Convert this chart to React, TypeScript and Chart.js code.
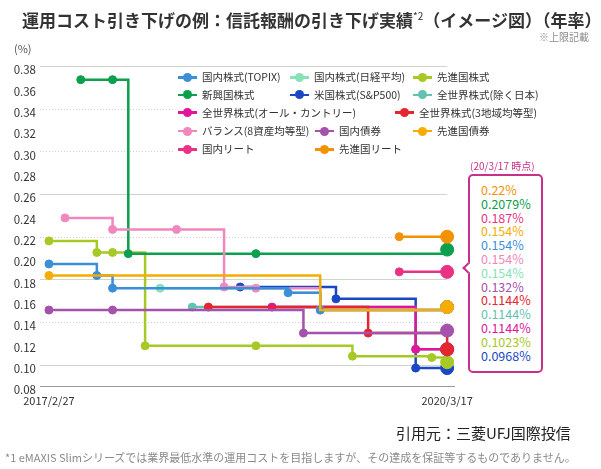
import React, { useEffect, useRef } from "react";
import { Chart, registerables } from "chart.js";

Chart.register(...registerables);

const FONT = '"Noto Sans CJK JP", "Noto Sans", sans-serif';

// ---- axes ----
const X_TICK_DAYS = [0, 1114]; // days since 2017/2/27
const X_TICK_LABELS = ["2017/2/27", "2020/3/17"];
const Y_TICKS = [0.08, 0.1, 0.12, 0.14, 0.16, 0.18, 0.2, 0.22, 0.24, 0.26, 0.28, 0.3, 0.32, 0.34, 0.36, 0.38];
const GRID_SOLID = [0.38, 0.26, 0.18, 0.1];
const GRID_DOTTED = [0.34, 0.3, 0.22, 0.14];

// ---- series ----
const SERIES_NAMES = [
  "国内株式(TOPIX)",
  "国内株式(日経平均)",
  "先進国株式",
  "新興国株式",
  "米国株式(S&P500)",
  "全世界株式(除く日本)",
  "全世界株式(オール・カントリー)",
  "全世界株式(3地域均等型)",
  "バランス(8資産均等型)",
  "国内債券",
  "先進国債券",
  "国内リート",
  "先進国リート",
];
const SERIES_COLORS = [
  "#3b8fd9",
  "#86e3b6",
  "#a6c925",
  "#0b9f4e",
  "#1a47c4",
  "#63c2b2",
  "#e0169b",
  "#e3262f",
  "#f087bd",
  "#a452ab",
  "#f6ac00",
  "#e83384",
  "#f39200",
];

// x: days since 2017/2/27, y: 信託報酬 (%)
const TOPIX_X = [0, 134, 178, 669, 759, 1114];
const TOPIX_Y = [0.1944, 0.1836, 0.1717, 0.1674, 0.1512, 0.154];
const NIKKEI_X = [311, 669, 759, 1114];
const NIKKEI_Y = [0.1717, 0.1674, 0.1512, 0.154];
const DEV_EQ_X = [0, 134, 178, 269, 579, 849, 1071, 1114];
const DEV_EQ_Y = [0.216, 0.2052, 0.2052, 0.1177, 0.1177, 0.108, 0.1067, 0.1023];
const EM_EQ_X = [89, 178, 222, 579, 1114];
const EM_EQ_Y = [0.3672, 0.3672, 0.2041, 0.2041, 0.2079];
const SP500_X = [535, 803, 1026, 1114];
const SP500_Y = [0.1728, 0.1617, 0.0968, 0.0968];
const EXJP_X = [401, 1026, 1114];
const EXJP_Y = [0.154, 0.1144, 0.1144];
const ACWI_X = [624, 1026, 1114];
const ACWI_Y = [0.154, 0.1144, 0.1144];
const THREE_X = [446, 893, 1114];
const THREE_Y = [0.154, 0.1296, 0.1144];
const BAL_X = [45, 178, 357, 490, 579, 759, 1114];
const BAL_Y = [0.2376, 0.2268, 0.2268, 0.1728, 0.1717, 0.1512, 0.154];
const JGB_X = [0, 178, 712, 1114];
const JGB_Y = [0.1512, 0.1512, 0.1296, 0.132];
const DEV_BOND_X = [0, 759, 1114];
const DEV_BOND_Y = [0.1836, 0.1512, 0.154];
const JREIT_X = [980, 1114];
const JREIT_Y = [0.187, 0.187];
const DEV_REIT_X = [980, 1114];
const DEV_REIT_Y = [0.22, 0.22];

const SERIES_X = [TOPIX_X, NIKKEI_X, DEV_EQ_X, EM_EQ_X, SP500_X, EXJP_X, ACWI_X, THREE_X, BAL_X, JGB_X, DEV_BOND_X, JREIT_X, DEV_REIT_X];
const SERIES_Y = [TOPIX_Y, NIKKEI_Y, DEV_EQ_Y, EM_EQ_Y, SP500_Y, EXJP_Y, ACWI_Y, THREE_Y, BAL_Y, JGB_Y, DEV_BOND_Y, JREIT_Y, DEV_REIT_Y];

// order of the list in the "(20/3/17 時点)" box
const BOX_ORDER = [12, 3, 11, 10, 0, 8, 1, 9, 7, 5, 6, 2, 4];
const BOX_HEADER = "(20/3/17 時点)";

// ---- styling / layout (not data) ----
const DRAW_PRIORITY = [1, 3, 11, 9, 12, 6, 5, 4, 2, 3.5, 0, 8, 7];
const HIDDEN_DOTS: Record<number, number[]> = { 10: [1], 1: [1, 2] };
const LEGEND_ROWS = [77.3, 94.8, 112.7, 131, 149.3];
const LEGEND_SLOTS: [number, number, number][] = [
  [0, 178, 0], [1, 290, 0], [2, 413, 0],
  [3, 178, 1], [4, 290, 1], [5, 413, 1],
  [6, 178, 2], [7, 395, 2],
  [8, 178, 3], [9, 315, 3], [10, 413, 3],
  [11, 178, 4], [12, 315, 4],
];
const BOX_COLOR = "#c8318b";

const gridPlugin = {
  id: "customGrid",
  beforeDatasetsDraw(chart: any) {
    const { ctx, chartArea, scales } = chart;
    const ys = scales.y;
    const xs = scales.x;
    const x0 = chartArea.left;
    const x1 = xs.getPixelForValue(X_TICK_DAYS[1]);
    const line = (v: number, color: string, dash: number[], right: number) => {
      const p = Math.round(ys.getPixelForValue(v)) + 0.5;
      ctx.save();
      ctx.strokeStyle = color;
      ctx.lineWidth = 1;
      ctx.setLineDash(dash);
      ctx.beginPath();
      ctx.moveTo(x0, p);
      ctx.lineTo(right, p);
      ctx.stroke();
      ctx.restore();
    };
    GRID_SOLID.forEach((v) => line(v, "#cdd5cd", [], x1));
    GRID_DOTTED.forEach((v) => line(v, "#d8c9d3", [1, 2], x1));
    line(Y_TICKS[0], "#9a9a9a", [], chartArea.right);
  },
};

export default function App() {
  const canvasRef = useRef<HTMLCanvasElement>(null);

  useEffect(() => {
    const datasets = SERIES_NAMES.map((name, i) => ({
      label: name,
      data: SERIES_X[i].map((x, j) => ({ x, y: SERIES_Y[i][j] })),
      borderColor: SERIES_COLORS[i],
      backgroundColor: SERIES_COLORS[i],
      pointBackgroundColor: SERIES_COLORS[i],
      pointBorderColor: SERIES_COLORS[i],
      borderWidth: 2.5,
      pointBorderWidth: 1,
      pointRadius: (c: any) => {
        const n = c.dataset.data.length;
        if (c.dataIndex === n - 1) return 6.5;
        if ((HIDDEN_DOTS[c.datasetIndex] || []).includes(c.dataIndex)) return 0;
        return 4;
      },
      stepped: true,
      fill: false,
      clip: false as any,
      order: DRAW_PRIORITY[i],
    }));

    const chart = new Chart(canvasRef.current!, {
      type: "line",
      data: { datasets },
      plugins: [gridPlugin],
      options: {
        responsive: false,
        animation: false,
        events: [],
        layout: { padding: { top: 66, left: 0, right: 146, bottom: 53 } },
        plugins: { legend: { display: false }, tooltip: { enabled: false }, title: { display: false } },
        scales: {
          x: {
            type: "linear",
            min: -25,
            max: 1136,
            afterBuildTicks: (s: any) => {
              s.ticks = X_TICK_DAYS.map((v) => ({ value: v }));
            },
            afterFit: (s: any) => {
              s.height = 30;
            },
            ticks: {
              autoSkip: false,
              maxRotation: 0,
              padding: 8,
              color: "#333",
              font: { family: FONT, size: 11 },
              callback: (v: any) => {
                const k = X_TICK_DAYS.indexOf(Number(v));
                return k >= 0 ? X_TICK_LABELS[k] : "";
              },
            },
            grid: { display: false, drawTicks: false },
            border: { display: false },
          },
          y: {
            type: "linear",
            min: Y_TICKS[0],
            max: Y_TICKS[Y_TICKS.length - 1],
            afterBuildTicks: (s: any) => {
              s.ticks = Y_TICKS.map((v) => ({ value: v }));
            },
            afterFit: (s: any) => {
              s.width = 40;
            },
            ticks: {
              padding: 4,
              labelOffset: 4,
              color: "#333",
              font: { family: FONT, size: 11.5 },
              callback: (v: any) => Number(v).toFixed(2),
            },
            grid: { display: false, drawTicks: false },
            border: { display: false },
          },
        },
      },
    } as any);
    return () => chart.destroy();
  }, []);

  const fmt = (v: number) => `${v}%`;

  return (
    <div
      style={{
        position: "absolute",
        left: 0,
        top: 0,
        width: 601,
        height: 469,
        background: "#fff",
        overflow: "hidden",
        fontFamily: FONT,
      }}
    >
      <canvas ref={canvasRef} width={601} height={469} style={{ position: "absolute", left: 0, top: 0 }} />

      <div
        style={{
          position: "absolute",
          left: 22,
          top: 4,
          lineHeight: "24px",
          fontSize: 17,
          fontWeight: 700,
          color: "#333",
          whiteSpace: "nowrap",
        }}
      >
        運用コスト引き下げの例：信託報酬の引き下げ実績
        <span style={{ fontSize: 10, verticalAlign: "7px", fontWeight: 400 }}>*2</span>
        （イメージ図）（年率）
      </div>
      <div
        style={{
          position: "absolute",
          right: 12,
          top: 30,
          lineHeight: "14px",
          fontSize: 10,
          color: "#8a8a8a",
          whiteSpace: "nowrap",
        }}
      >
        ※上限記載
      </div>
      <div
        style={{
          position: "absolute",
          left: 14,
          top: 41,
          lineHeight: "14px",
          fontSize: 11,
          color: "#555",
          whiteSpace: "nowrap",
        }}
      >
        (%)
      </div>

      {/* legend */}
      <div style={{ position: "absolute", left: 174, top: 68, width: 427, height: 90, background: "#fff" }} />
      {LEGEND_SLOTS.map(([si, mx, row]) => {
        const cy = LEGEND_ROWS[row];
        const c = SERIES_COLORS[si];
        return (
          <div key={si}>
            <div style={{ position: "absolute", left: mx, top: cy - 1.25, width: 19, height: 2.5, background: c }} />
            <div
              style={{
                position: "absolute",
                left: mx + 5,
                top: cy - 4.5,
                width: 9,
                height: 9,
                borderRadius: "50%",
                background: c,
              }}
            />
            <div
              style={{
                position: "absolute",
                left: mx + 24,
                top: cy - 8,
                lineHeight: "16px",
                fontSize: 10.5,
                color: "#333",
                whiteSpace: "nowrap",
              }}
            >
              {SERIES_NAMES[si]}
            </div>
          </div>
        );
      })}

      {/* 20/3/17 box */}
      <div
        style={{
          position: "absolute",
          left: 470,
          top: 159,
          lineHeight: "14px",
          fontSize: 10,
          color: BOX_COLOR,
          whiteSpace: "nowrap",
        }}
      >
        {BOX_HEADER}
      </div>
      <div
        style={{
          position: "absolute",
          left: 468,
          top: 174,
          width: 75,
          height: 199,
          boxSizing: "border-box",
          border: `2.5px solid ${BOX_COLOR}`,
          borderRadius: 5,
          background: "#fff",
        }}
      />
      <div
        style={{
          position: "absolute",
          left: 464,
          top: 264.3,
          width: 8,
          height: 8,
          boxSizing: "border-box",
          borderLeft: `2.5px solid ${BOX_COLOR}`,
          borderBottom: `2.5px solid ${BOX_COLOR}`,
          background: "#fff",
          transform: "rotate(45deg)",
        }}
      />
      <div style={{ position: "absolute", left: 481, top: 183, whiteSpace: "nowrap" }}>
        {BOX_ORDER.map((si) => (
          <div key={si} style={{ lineHeight: "13.8px", height: 13.8, fontSize: 12.5, color: SERIES_COLORS[si] }}>
            {fmt(SERIES_Y[si][SERIES_Y[si].length - 1])}
          </div>
        ))}
      </div>

      {/* footers */}
      <div
        style={{
          position: "absolute",
          left: 396,
          top: 423,
          lineHeight: "20px",
          fontSize: 15,
          color: "#222",
          whiteSpace: "nowrap",
        }}
      >
        引用元：三菱UFJ国際投信
      </div>
      <div
        style={{
          position: "absolute",
          left: 5,
          top: 449,
          lineHeight: "16px",
          fontSize: 11,
          color: "#8a8a8a",
          whiteSpace: "nowrap",
        }}
      >
        *1 eMAXIS Slimシリーズでは業界最低水準の運用コストを目指しますが、その達成を保証等するものでありません。
      </div>
    </div>
  );
}
